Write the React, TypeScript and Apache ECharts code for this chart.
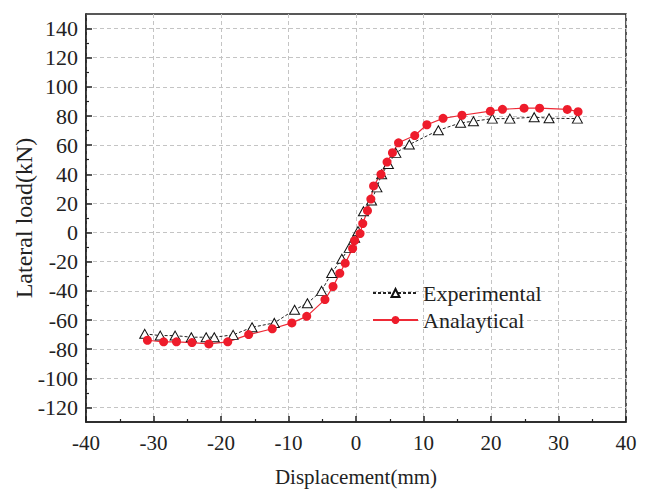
import React, { useEffect, useRef } from "react";
import * as echarts from "echarts";

const FONT = "'Liberation Serif', 'Times New Roman', serif";

const expX = [-31.3, -29.0, -26.8, -24.4, -22.2, -21.0, -18.2, -15.4, -12.1, -9.1, -7.2, -5.1, -3.6, -2.1, -1.0, -0.2, 0.3, 1.1, 2.3, 3.1, 3.8, 4.8, 5.9, 7.9, 12.2, 15.5, 17.4, 20.2, 22.8, 26.4, 28.6, 32.8];
const expY = [-69.5, -70.7, -70.7, -71.8, -71.8, -71.8, -70.2, -65, -62, -53, -48.5, -40, -27.7, -18, -10.5, -3.6, 1, 14.6, 22, 31, 40, 47, 54.7, 60.4, 70.2, 75.3, 76.4, 78.2, 78.2, 79.2, 78.5, 78.2];

const anaX = [-30.9, -28.5, -26.6, -24.3, -21.8, -19.0, -15.9, -12.4, -9.5, -7.3, -4.6, -3.4, -2.4, -1.6, -0.5, -0.2, 0.6, 1.0, 1.7, 2.2, 2.6, 3.7, 4.6, 5.4, 6.3, 8.7, 10.5, 12.9, 15.7, 19.9, 21.7, 24.9, 27.2, 31.3, 32.9];
const anaY = [-73.9, -75, -75, -75.5, -76.4, -75, -70, -66, -62, -57.5, -46, -37, -28, -21, -11, -5.5, -0.7, 6.2, 15, 23, 32, 40, 48.4, 54.8, 61.6, 66.6, 74, 78.4, 80.5, 83.3, 84.6, 85.4, 85.4, 84.5, 83];

const yMajorTicks = [-120, -100, -80, -60, -40, -20, 0, 20, 40, 60, 80, 100, 120, 140];
const yMinorTicks = [-110, -90, -70, -50, -30, -10, 10, 30, 50, 70, 90, 110, 130];

const seriesNames = ["Experimental", "Analaytical"];

export default function App() {
  const ref = useRef<HTMLDivElement>(null);
  useEffect(() => {
    const chart = echarts.init(ref.current!, null, { renderer: "svg" });
    const axisColor = "#222";
    chart.setOption({
      animation: false,
      backgroundColor: "#fff",
      grid: {
        left: 86,
        right: 19,
        top: 14,
        bottom: 69,
        show: true,
        borderColor: axisColor,
        borderWidth: 1.5,
        containLabel: false,
        outerBoundsMode: "none",
      },
      legend: {
        orient: "vertical",
        left: 367,
        top: 277,
        itemWidth: 45,
        itemHeight: 10,
        itemGap: 5,
        textStyle: { fontSize: 22, fontFamily: FONT, color: "#222" },
        data: seriesNames,
      },
      xAxis: {
        type: "value",
        min: -40,
        max: 40,
        interval: 10,
        axisLine: { show: true, onZero: false, lineStyle: { color: axisColor, width: 1.5 } },
        axisTick: { show: true, inside: true, length: 6, lineStyle: { color: axisColor, width: 1.5 } },
        minorTick: { show: true, splitNumber: 2, length: 3, lineStyle: { color: axisColor, width: 1.2 } },
        axisLabel: { color: "#222", fontSize: 21, fontFamily: FONT, margin: 10 },
        splitLine: { show: true, lineStyle: { color: "#c4c4c4", type: [4, 3], width: 1 } },
        name: "Displacement(mm)",
        nameLocation: "middle",
        nameGap: 44,
        nameTextStyle: { fontSize: 21, fontFamily: FONT, color: "#222" },
      },
      yAxis: [
        {
          type: "value",
          min: -130,
          max: 150,
          axisLine: { show: true, onZero: false, lineStyle: { color: axisColor, width: 1.5 } },
          axisTick: { show: true, inside: true, length: 6, customValues: yMajorTicks, lineStyle: { color: axisColor, width: 1.5 } },
          axisLabel: { color: "#222", fontSize: 22, fontFamily: FONT, margin: 8, customValues: yMajorTicks },
          splitLine: { show: true, lineStyle: { color: "#c4c4c4", type: [4, 3], width: 1 } },
          name: "Lateral load(kN)",
          nameLocation: "middle",
          nameRotate: 90,
          nameGap: 50,
          nameMoveOverlap: false,
          nameTextStyle: { fontSize: 24, fontFamily: FONT, color: "#222" },
        },
        {
          type: "value",
          min: -130,
          max: 150,
          position: "left",
          axisLine: { show: false, onZero: false },
          axisTick: { show: true, inside: true, length: 3, customValues: yMinorTicks, lineStyle: { color: axisColor, width: 1.2 } },
          axisLabel: { show: false },
          splitLine: { show: false },
        },
      ],
      series: [
        {
          name: seriesNames[0],
          type: "line",
          data: expX.map((x, i) => [x, expY[i]]),
          symbol: "triangle",
          symbolSize: [10, 9],
          lineStyle: { color: "#222", width: 1, type: [3, 2] },
          itemStyle: { color: "#fff", borderColor: "#111", borderWidth: 1 },
        },
        {
          name: seriesNames[1],
          type: "line",
          data: anaX.map((x, i) => [x, anaY[i]]),
          symbol: "circle",
          symbolSize: 9,
          lineStyle: { color: "#ee2a36", width: 1.2 },
          itemStyle: { color: "#ee1c2b" },
        },
      ],
    });
    return () => chart.dispose();
  }, []);
  return (
    <div
      ref={ref}
      style={{ position: "fixed", left: 0, top: 0, width: 645, height: 491 }}
    />
  );
}
